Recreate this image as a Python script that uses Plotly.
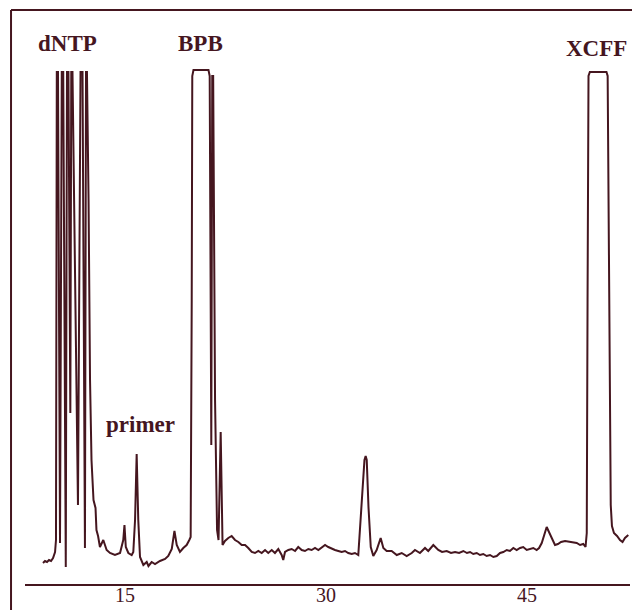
import plotly.graph_objects as go

# Electropherogram trace: migration time (min) and detector signal (arbitrary units)
time_min = [
    8.88, 9.03, 9.18, 9.33, 9.48, 9.63, 9.78, 9.85, 9.91, 10.00,
    10.15, 10.28, 10.39, 10.58, 10.67, 10.78, 10.92, 10.99, 11.08, 11.49,
    11.68, 11.83, 12.01, 12.09, 12.16, 12.28, 12.39, 12.50, 12.65, 12.80,
    12.87, 12.99, 13.13, 13.38, 13.63, 13.88, 14.25, 14.63, 14.87, 14.96,
    15.06, 15.25, 15.50, 15.62, 15.75, 15.87, 15.99, 16.12, 16.37, 16.62,
    16.75, 16.99, 17.24, 17.61, 17.99, 18.23, 18.49, 18.69, 18.86, 19.10,
    19.35, 19.60, 19.80, 19.90, 19.98, 20.02, 20.11, 21.23, 21.32, 21.44,
    21.51, 21.58, 21.72, 21.87, 21.98, 22.14, 22.28, 22.46, 22.71, 22.96,
    23.21, 23.46, 23.71, 23.96, 24.20, 24.46, 24.70, 24.95, 25.20, 25.45,
    25.69, 25.95, 26.19, 26.44, 26.69, 26.81, 26.94, 27.19, 27.44, 27.69,
    27.93, 28.19, 28.43, 28.68, 28.93, 29.18, 29.43, 29.68, 29.93, 30.17,
    30.43, 30.67, 30.92, 31.17, 31.42, 31.66, 31.92, 32.16, 32.41, 32.66,
    32.87, 32.96, 33.04, 33.17, 33.34, 33.53, 33.78, 34.08, 34.28, 34.53,
    34.90, 35.28, 35.65, 36.02, 36.40, 36.64, 37.01, 37.39, 37.63, 38.01,
    38.38, 38.66, 39.01, 39.33, 39.63, 39.93, 40.25, 40.52, 40.75, 40.99,
    41.25, 41.49, 41.74, 41.99, 42.24, 42.49, 42.74, 42.99, 43.23, 43.49,
    43.73, 43.98, 44.23, 44.48, 44.72, 44.98, 45.22, 45.47, 45.72, 45.90,
    46.10, 46.27, 46.47, 46.64, 46.84, 47.09, 47.31, 47.54, 47.84, 48.21,
    48.46, 48.71, 48.96, 49.20, 49.37, 49.46, 49.52, 49.59, 49.69, 50.93,
    51.02, 51.10, 51.17, 51.25, 51.34, 51.49, 51.72, 51.94, 52.13, 52.31,
    52.56,
]
signal = [
    21, 23, 22, 24, 23, 26, 32, 44, 512, 512,
    41, 512, 512, 17, 512, 512, 171, 512, 512, 79,
    512, 512, 36, 512, 512, 384, 204, 124, 84, 76,
    54, 48, 37, 44, 34, 31, 29, 31, 44, 59,
    37, 31, 29, 32, 64, 130, 64, 27, 19, 22,
    18, 22, 20, 23, 25, 28, 35, 53, 39, 32,
    36, 39, 44, 47, 284, 508, 514, 514, 508, 139,
    508, 508, 184, 54, 44, 152, 39, 43, 46, 48,
    44, 42, 39, 39, 36, 32, 31, 33, 31, 34,
    31, 34, 31, 35, 29, 24, 32, 34, 35, 33,
    37, 34, 33, 35, 34, 36, 34, 37, 39, 37,
    35, 34, 33, 32, 33, 31, 30, 31, 29, 77,
    124, 128, 124, 77, 37, 28, 34, 46, 36, 33,
    33, 29, 31, 28, 31, 34, 31, 36, 33, 39,
    34, 32, 33, 31, 32, 31, 33, 31, 32, 30,
    31, 29, 30, 28, 29, 27, 28, 31, 32, 34,
    33, 36, 34, 36, 37, 34, 35, 36, 34, 36,
    41, 49, 57, 52, 46, 39, 40, 42, 43, 42,
    41, 41, 39, 40, 37, 51, 284, 508, 512, 512,
    508, 334, 164, 79, 58, 51, 48, 44, 42, 46,
    49,
]

tick_values = [15, 30, 45]
tick_labels = ["15", "30", "45"]

peak_labels = ["dNTP", "primer", "BPB", "XCFF"]
label_time = [10.71, 16.12, 20.67, 50.15]
label_signal = [541, 160, 541, 536]

ink = "#45161f"
serif = "Liberation Serif"

fig = go.Figure()
fig.add_trace(go.Scatter(
    x=time_min, y=signal, mode="lines",
    line=dict(color=ink, width=2),
    hoverinfo="skip", showlegend=False,
))

for txt, tx, sy in zip(peak_labels, label_time, label_signal):
    fig.add_annotation(
        x=tx, y=sy, xref="x", yref="y", text="<b>%s</b>" % txt, showarrow=False,
        xanchor="center", yanchor="middle",
        font=dict(family=serif, size=23, color=ink),
    )

# outer frame (left and top edges, right edge runs off the page)
fig.add_shape(type="line", xref="paper", yref="paper",
              x0=-0.0231, y0=-0.06, x1=-0.0231, y1=1.0,
              line=dict(color=ink, width=2))
fig.add_shape(type="line", xref="paper", yref="paper",
              x0=-0.0231, y0=1.0, x1=1.05, y1=1.0,
              line=dict(color=ink, width=2))

fig.update_layout(
    width=632, height=602,
    margin=dict(l=17, r=10, t=2, b=26),
    paper_bgcolor="white", plot_bgcolor="white",
    showlegend=False,
    xaxis=dict(
        range=[7.537, 52.687], showgrid=False, zeroline=False,
        showline=True, linecolor=ink, linewidth=2,
        tickmode="array", tickvals=tick_values, ticktext=tick_labels,
        ticks="", ticklabelstandoff=-8, automargin=False,
        tickfont=dict(family=serif, size=20, color=ink),
        fixedrange=True,
    ),
    yaxis=dict(range=[0, 574], visible=False, fixedrange=True),
)

fig.write_html("out.html")
